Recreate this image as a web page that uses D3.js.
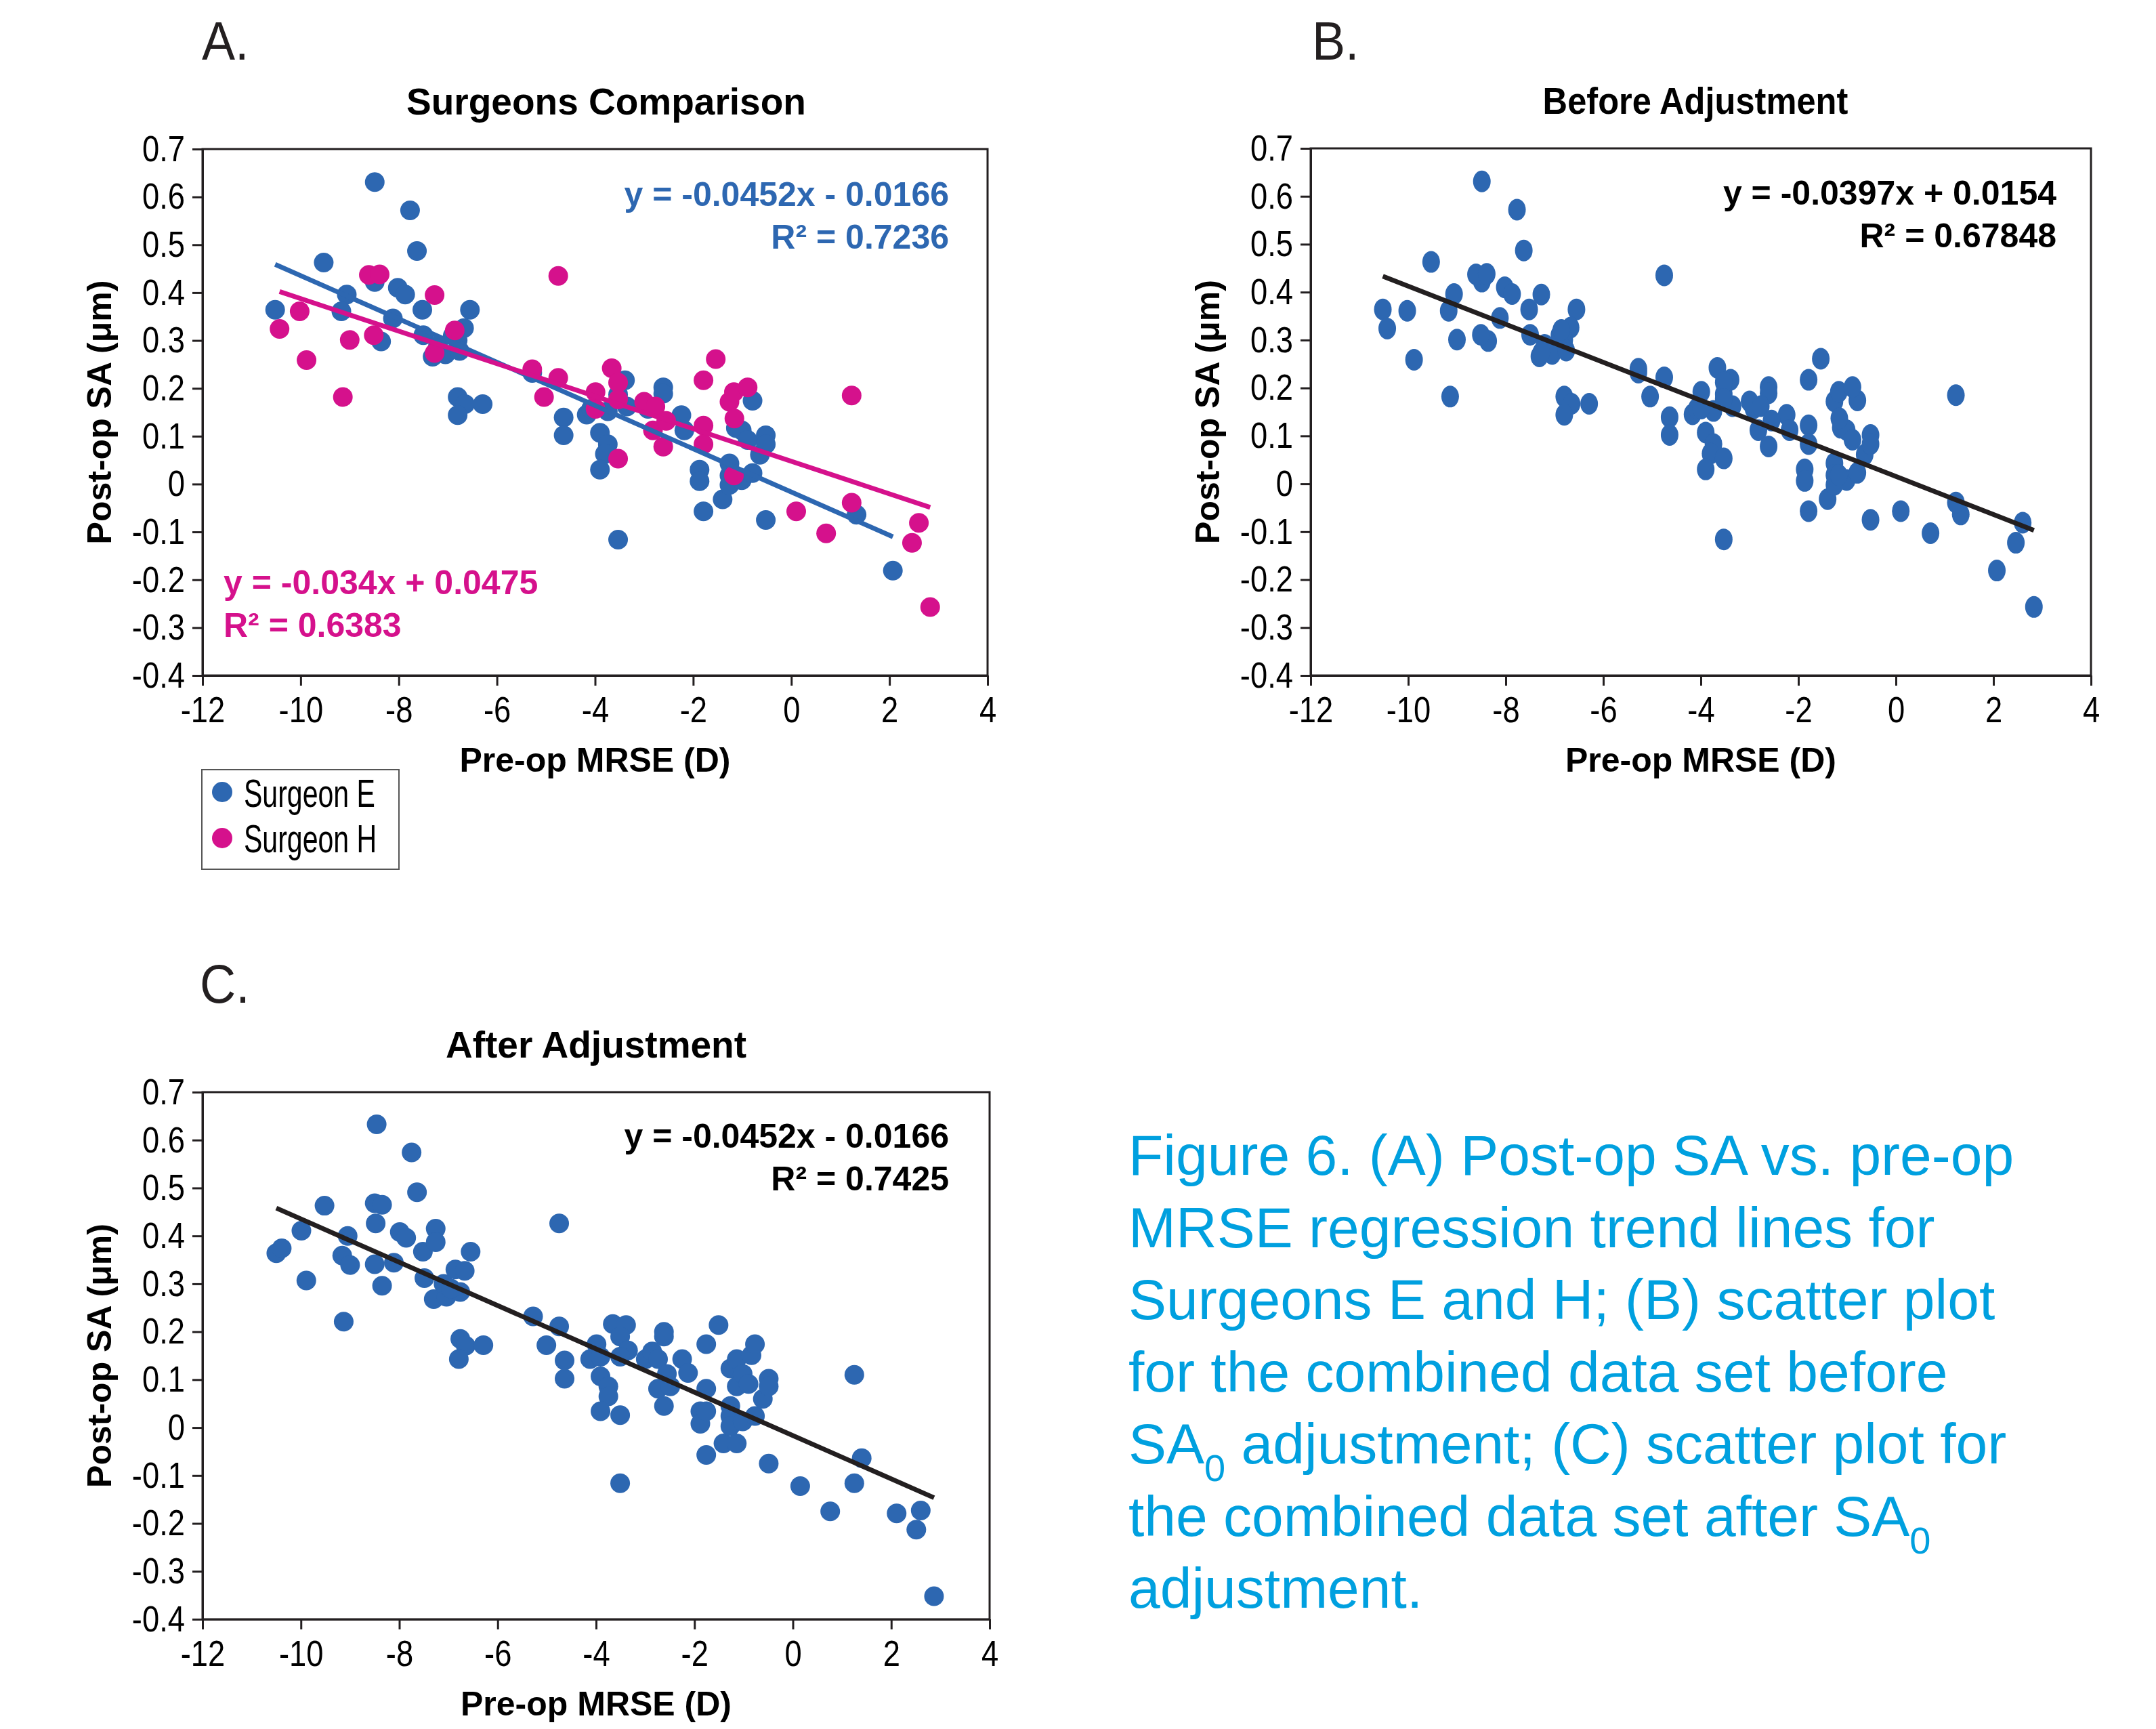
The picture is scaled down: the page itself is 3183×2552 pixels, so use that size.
<!DOCTYPE html>
<html>
<head>
<meta charset="utf-8">
<script src="https://cdn.jsdelivr.net/npm/d3@7"></script>
<style>
  body { margin: 0; background: #ffffff; }
</style>
</head>
<body>
<script>
// tick values shared by all three panels
var xTicks = [-12, -10, -8, -6, -4, -2, 0, 2, 4];
var yTicks = [-0.4, -0.3, -0.2, -0.1, 0, 0.1, 0.2, 0.3, 0.4, 0.5, 0.6, 0.7];

// surgeon E (blue) - pre-op MRSE vs post-op SA
var xE = [-8.49, -7.77, -7.63, -9.53, -8.49, -8.02, -7.87, -9.06, -10.52, -9.17, -7.52, -6.55,
          -8.12, -6.67, -6.80, -7.50, -8.36, -7.31, -7.05, -6.76, -6.80, -6.65, -6.80, -6.29,
          -5.28, -4.64, -4.64, -4.17, -4.08, -3.90, -3.74, -3.80, -3.90, -3.53, -3.39, -3.53,
          -3.35, -3.74, -2.61, -2.61, -2.24, -2.18, -1.87, -1.87, -1.79, -1.40, -1.26, -1.26,
          -1.26, -1.01, -1.13, -1.01, -0.89, -0.79, -0.79, -0.64, -0.52, -0.52, -0.52, 1.33,
          2.07, -2.92, -6.90, -7.20];
var yE = [0.631, 0.572, 0.487, 0.463, 0.422, 0.410, 0.396, 0.396, 0.364, 0.361, 0.364, 0.364,
          0.346, 0.326, 0.300, 0.311, 0.298, 0.266, 0.271, 0.278, 0.182, 0.167, 0.144, 0.167,
          0.232, 0.139, 0.102, 0.145, 0.157, 0.107, 0.083, 0.063, 0.030, -0.116, 0.217, 0.187,
          0.162, 0.152, 0.202, 0.189, 0.144, 0.112, 0.030, 0.006, -0.057, -0.032, 0.043, 0.018,
          -0.002, 0.008, 0.117, 0.112, 0.092, 0.174, 0.023, 0.061, 0.102, 0.083, -0.075, -0.064,
          -0.181, 0.157, 0.310, 0.290];

// surgeon H (magenta)
var xH = [-10.43, -10.02, -9.88, -9.14, -9.00, -8.61, -8.39, -8.51, -7.27, -7.27, -6.86, -4.75,
          -5.28, -5.04, -4.75, -3.99, -3.99, -3.66, -3.53, -3.53, -3.53, -3.00, -2.77, -2.82,
          -2.55, -2.61, -1.79, -1.79, -1.79, -1.54, -1.26, -1.17, -1.16, -0.89, -1.17, 0.10,
          0.71, 1.23, 1.23, 2.46, 2.60, 2.83];
var yH = [0.324, 0.361, 0.259, 0.182, 0.301, 0.437, 0.438, 0.311, 0.395, 0.274, 0.321, 0.435,
          0.240, 0.182, 0.222, 0.192, 0.157, 0.242, 0.212, 0.177, 0.053, 0.172, 0.162, 0.112,
          0.132, 0.078, 0.217, 0.122, 0.083, 0.261, 0.172, 0.192, 0.137, 0.202, 0.018, -0.057,
          -0.103, 0.185, -0.039, -0.123, -0.081, -0.257];

// combined data set after SA0 adjustment (panel C)
var xC = [-10.50, -10.39, -9.99, -9.89, -9.52, -9.13, -9.16, -9.05, -9.00, -8.50, -8.35, -8.46,
          -8.48, -8.50, -8.35, -8.11, -7.99, -7.86, -7.75, -7.64, -7.52, -7.49, -7.26, -7.26,
          -7.30, -7.04, -6.86, -6.76, -6.67, -6.76, -6.65, -6.79, -6.55, -6.29, -5.28, -5.01,
          -4.75, -4.75, -4.64, -4.64, -4.12, -3.99, -3.91, -3.91, -3.75, -3.75, -3.91, -3.51,
          -3.51, -3.66, -3.39, -3.51, -3.35, -3.51, -2.99, -2.86, -2.74, -2.74, -2.62, -2.62,
          -2.56, -2.49, -2.62, -2.25, -2.13, -1.88, -1.88, -1.76, -1.76, -1.76, -1.76, -1.51,
          -1.41, -1.27, -1.27, -1.27, -1.27, -1.14, -1.14, -1.14, -1.02, -1.02, -0.90, -0.84,
          -0.77, -0.77, -0.61, -0.49, -0.49, -0.49, 0.15, 0.76, 1.25, 1.25, 1.40, 2.11,
          2.51, 2.60, 2.87, -7.10, -6.95];
var yC = [0.364, 0.374, 0.411, 0.307, 0.463, 0.221, 0.359, 0.400, 0.339, 0.468, 0.465, 0.633,
          0.426, 0.341, 0.296, 0.344, 0.408, 0.396, 0.574, 0.491, 0.367, 0.312, 0.415, 0.387,
          0.268, 0.273, 0.330, 0.283, 0.327, 0.185, 0.171, 0.143, 0.367, 0.172, 0.232, 0.172,
          0.211, 0.426, 0.140, 0.102, 0.143, 0.174, 0.148, 0.107, 0.086, 0.065, 0.034, 0.026,
          -0.116, 0.216, 0.214, 0.190, 0.161, 0.148, 0.143, 0.159, 0.143, 0.081, 0.200, 0.190,
          0.112, 0.086, 0.045, 0.143, 0.114, 0.034, 0.008, 0.174, 0.081, 0.034, -0.057, 0.214,
          -0.033, 0.123, 0.045, 0.024, 0.003, 0.143, 0.086, -0.033, 0.112, 0.013, 0.091, 0.151,
          0.174, 0.024, 0.060, 0.102, 0.086, -0.075, -0.122, -0.175, 0.110, -0.116, -0.064, -0.179,
          -0.213, -0.173, -0.352, 0.300, 0.290];

// regression lines: [slope, intercept]
var fitE = [-0.0452, -0.0166];
var fitH = [-0.034, 0.0475];
var fitB = [-0.0397, 0.0154];
var fitC = [-0.0452, -0.0166];

var captionLines = [
  ["Figure 6. (A) Post-op SA vs. pre-op"],
  ["MRSE regression trend lines for"],
  ["Surgeons E and H; (B) scatter plot"],
  ["for the combined data set before"],
  ["SA", "0", " adjustment; (C) scatter plot for"],
  ["the combined data set after SA", "0"],
  ["adjustment."]
];

var blue = "#2d67b1",
    pink = "#d5118c",
    ink = "#231f20",
    cyan = "#00a0df";

var svg = d3.select("body").append("svg")
                           .attr("width", 3183)
                           .attr("height", 2552);

var font = "'Liberation Sans', Arial, Helvetica, sans-serif";

// squeeze a text horizontally (the original uses a condensed face)
function condense(sel, factor) {
  sel.each(function() {
    var len = this.getComputedTextLength();
    d3.select(this)
      .attr("textLength", len * factor)
      .attr("lengthAdjust", "spacingAndGlyphs");
  });
}

// one scatter panel: frame, axes, titles
function panel(box, title, titleX, titleSqueeze, letter, letterPos) {
  var x = d3.scaleLinear().domain([-12, 4]).range([box.left, box.right]);
  var y = d3.scaleLinear().domain([-0.4, 0.7]).range([box.bottom, box.top]);

  svg.append("rect")
     .attr("x", box.left)
     .attr("y", box.top)
     .attr("width", box.right - box.left)
     .attr("height", box.bottom - box.top)
     .style("fill", "none")
     .style("stroke", ink)
     .style("stroke-width", 3);

  var gx = svg.append("g")
              .attr("transform", "translate(0," + box.bottom + ")")
              .call(d3.axisBottom(x)
                      .tickValues(xTicks)
                      .tickSize(15)
                      .tickSizeOuter(0)
                      .tickPadding(16)
                      .tickFormat(function(d) { return String(d); }));

  var gy = svg.append("g")
              .attr("transform", "translate(" + box.left + ",0)")
              .call(d3.axisLeft(y)
                      .tickValues(yTicks)
                      .tickSize(15)
                      .tickSizeOuter(0)
                      .tickPadding(11)
                      .tickFormat(function(d) { return String(+d.toFixed(1)); }));

  [gx, gy].forEach(function(g) {
    g.selectAll("path, line").style("stroke", ink).style("stroke-width", 3);
    g.selectAll("text")
     .style("font-family", font)
     .style("font-size", "54px")
     .style("fill", "#000")
     .call(condense, 0.84);
  });

  // chart title
  svg.append("text")
     .attr("x", titleX)
     .attr("y", box.top - 51)
     .attr("text-anchor", "middle")
     .style("font-family", font)
     .style("font-weight", "bold")
     .style("font-size", "55px")
     .text(title)
     .call(condense, titleSqueeze);

  // axis titles
  svg.append("text")
     .attr("x", (box.left + box.right) / 2)
     .attr("y", box.bottom + 142)
     .attr("text-anchor", "middle")
     .style("font-family", font)
     .style("font-weight", "bold")
     .style("font-size", "50px")
     .text("Pre-op MRSE (D)");

  svg.append("text")
     .attr("transform", "translate(" + (box.left - 135) + "," + ((box.top + box.bottom) / 2) + ") rotate(-90)")
     .attr("text-anchor", "middle")
     .style("font-family", font)
     .style("font-weight", "bold")
     .style("font-size", "50px")
     .text("Post-op SA (\u03bcm)");

  // panel letter
  svg.append("text")
     .attr("x", letterPos[0])
     .attr("y", letterPos[1])
     .style("font-family", font)
     .style("font-size", "80px")
     .style("fill", ink)
     .text(letter)
     .call(condense, 0.92);

  return { x: x, y: y, box: box };
}

function trend(p, fit, xs, color) {
  var x0 = d3.min(xs), x1 = d3.max(xs);
  svg.append("line")
     .attr("x1", p.x(x0))
     .attr("y1", p.y(fit[0] * x0 + fit[1]))
     .attr("x2", p.x(x1))
     .attr("y2", p.y(fit[0] * x1 + fit[1]))
     .style("stroke", color)
     .style("stroke-width", 7);
}

function dots(p, xs, ys, color, rx, ry) {
  svg.append("g").selectAll("ellipse")
     .data(xs.map(function(d, i) { return [d, ys[i]]; }))
     .enter().append("ellipse")
     .attr("cx", function(d) { return p.x(d[0]); })
     .attr("cy", function(d) { return p.y(d[1]); })
     .attr("rx", rx)
     .attr("ry", ry)
     .style("fill", color);
}

function equation(xPos, yPos, anchor, color, eq, r2) {
  [eq, r2].forEach(function(t, i) {
    svg.append("text")
       .attr("x", xPos)
       .attr("y", yPos + i * 63)
       .attr("text-anchor", anchor)
       .style("font-family", font)
       .style("font-weight", "bold")
       .style("font-size", "50px")
       .style("fill", color)
       .text(t);
  });
}

// ---- A. surgeons comparison
var pA = panel({ left: 299, top: 220, right: 1458, bottom: 997 }, "Surgeons Comparison", 895, 1, "A.", [298, 88]);
dots(pA, xE, yE, blue, 14.5, 14.5);
dots(pA, xH, yH, pink, 14.5, 14.5);
trend(pA, fitE, xE, blue);
trend(pA, fitH, xH, pink);
equation(1401, 304, "end", blue, "y = -0.0452x - 0.0166", "R\u00b2 = 0.7236");
equation(330, 877, "start", pink, "y = -0.034x + 0.0475", "R\u00b2 = 0.6383");

// legend
var legend = svg.append("g");
legend.append("rect")
      .attr("x", 298)
      .attr("y", 1136)
      .attr("width", 291)
      .attr("height", 147)
      .style("fill", "#fff")
      .style("stroke", "#555")
      .style("stroke-width", 2);
[["Surgeon E", blue], ["Surgeon H", pink]].forEach(function(d, i) {
  legend.append("circle")
        .attr("cx", 328)
        .attr("cy", 1169 + i * 68)
        .attr("r", 15)
        .style("fill", d[1]);
  legend.append("text")
        .attr("x", 360)
        .attr("y", 1191 + i * 67)
        .style("font-family", font)
        .style("font-size", "57px")
        .text(d[0])
        .call(condense, 0.72);
});

// ---- B. before adjustment (both surgeons pooled)
var pB = panel({ left: 1935, top: 219, right: 3087, bottom: 997 }, "Before Adjustment", 2503, 0.92, "B.", [1937, 88]);
var xB = xE.concat(xH), yB = yE.concat(yH);
dots(pB, xB, yB, blue, 13, 16);
trend(pB, fitB, xB, ink);
equation(3036, 302, "end", "#000", "y = -0.0397x + 0.0154", "R\u00b2 = 0.67848");

// ---- C. after adjustment
var pC = panel({ left: 299, top: 1612, right: 1461, bottom: 2390 }, "After Adjustment", 880, 1, "C.", [295, 1480]);
dots(pC, xC, yC, blue, 14.5, 14.5);
trend(pC, fitC, xC, ink);
equation(1401, 1694, "end", "#000", "y = -0.0452x - 0.0166", "R\u00b2 = 0.7425");

// ---- caption
var cap = svg.append("text")
             .style("font-family", font)
             .style("font-size", "84px")
             .style("fill", cyan);
captionLines.forEach(function(parts, i) {
  var line = cap.append("tspan")
                .attr("x", 1666)
                .attr("y", 1734 + i * 106.5);
  parts.forEach(function(s, j) {
    var sub = (j % 2 == 1);
    line.append("tspan")
        .attr("dy", sub ? 26 : (j > 0 ? -26 : 0))
        .style("font-size", sub ? "56px" : "84px")
        .text(s);
  });
});
</script>
</body>
</html>
